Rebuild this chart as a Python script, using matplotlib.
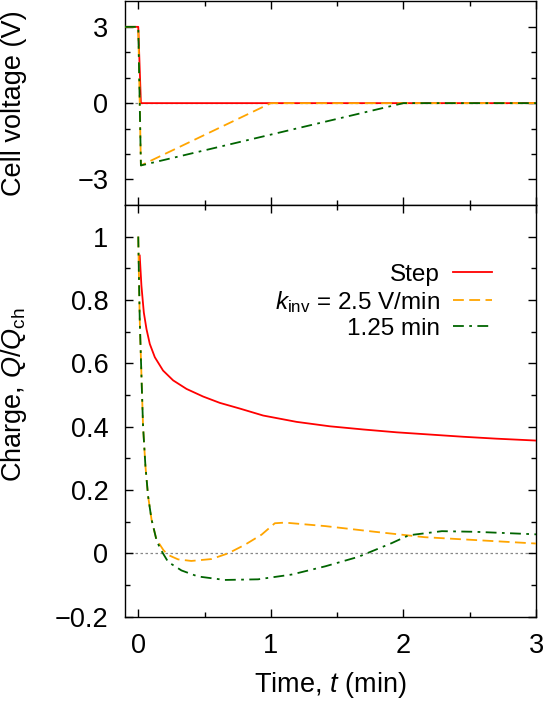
import numpy as np
import matplotlib
matplotlib.use("Agg")
import matplotlib.pyplot as plt

plt.rcParams['font.family'] = ['Liberation Sans', 'DejaVu Sans']
plt.rcParams['mathtext.fontset'] = 'custom'
plt.rcParams['mathtext.rm'] = 'Liberation Sans'
plt.rcParams['mathtext.it'] = 'Liberation Sans:italic'
plt.rcParams['font.size'] = 19.5

# cell voltage (V) vs time (min)
t_v_step = [-0.1, 0.0, 0.02, 3.0]
v_step = [3, 3, 0, 0]
t_v_fast = [-0.1, 0.0, 0.02, 1.0, 3.0]
v_fast = [3, 3, -2.45, 0, 0]
t_v_slow = [-0.1, 0.0, 0.02, 2.0, 3.0]
v_slow = [3, 3, -2.45, 0, 0]

# charge Q/Qch vs time (min)
t_q_step = [0.011, 0.024, 0.042, 0.062, 0.087, 0.125, 0.187, 0.263, 0.364, 0.489,
            0.615, 0.766, 0.942, 1.194, 1.445, 1.697, 1.949, 2.2, 2.45, 2.7, 3.0]
q_step = [0.940, 0.844, 0.760, 0.708, 0.661, 0.619, 0.577, 0.546, 0.519, 0.495,
          0.475, 0.457, 0.435, 0.415, 0.401, 0.391, 0.382, 0.375, 0.368, 0.362, 0.356]

t_q_start = [0.0, 0.004, 0.011, 0.024, 0.036, 0.054, 0.074, 0.1, 0.137]
q_start = [1.0, 0.9, 0.741, 0.561, 0.403, 0.276, 0.181, 0.107, 0.043]

t_q_fast = t_q_start + [0.162, 0.19, 0.225, 0.30, 0.40, 0.552, 0.678, 0.804, 0.93,
                        1.03, 1.106, 1.41, 1.785, 2.16, 2.54, 3.0]
q_fast = q_start + [0.028, 0.01, -0.005, -0.019, -0.024, -0.018, 0.0, 0.027, 0.059,
                    0.095, 0.097, 0.086, 0.068, 0.051, 0.042, 0.031]

t_q_slow = t_q_start + [0.155, 0.175, 0.225, 0.326, 0.45, 0.653, 0.904, 1.156, 1.41,
                        1.66, 1.91, 2.04, 2.29, 2.54, 3.0]
q_slow = q_start + [0.025, 0.008, -0.027, -0.054, -0.073, -0.084, -0.082, -0.067, -0.041,
                    -0.011, 0.032, 0.057, 0.070, 0.068, 0.060]

labels = ['Step', r'$k_\mathrm{inv}$ = 2.5 V/min', '1.25 min']
red, orange, green = '#ff0000', '#ffa500', '#006400'
lw = 1.3

fig = plt.figure(figsize=(5.43, 7.04), dpi=100)
ax1 = fig.add_axes([0.2302, 0.709, 0.757, 0.289])
ax2 = fig.add_axes([0.2302, 0.124, 0.757, 0.585])

for ax in (ax1, ax2):
    ax.axhline(0, color='#888888', lw=0.9, ls=(0, (2, 2)), zorder=1)
    ax.tick_params(which='both', direction='in', top=True, right=True, width=1)
    ax.tick_params(which='major', length=6)
    ax.tick_params(which='minor', length=3.5)
    ax.tick_params(axis='y', pad=12)
    ax.tick_params(axis='x', pad=12)
    for s in ax.spines.values():
        s.set_linewidth(1)
    ax.set_xlim(-0.1, 3)
    ax.set_xticks([0, 1, 2, 3])
    ax.set_xticks(np.arange(0.5, 3, 1.0), minor=True)

# top: voltage
ax1.plot(t_v_step, v_step, color=red, lw=lw, zorder=3)
ax1.plot(t_v_fast, v_fast, color=orange, lw=lw, dashes=(6, 3), zorder=4)
ax1.plot(t_v_slow, v_slow, color=green, lw=lw, dashes=(6, 3, 1.5, 3), zorder=5)
ax1.set_ylim(-4, 4)
ax1.set_yticks([-3, 0, 3])
ax1.set_yticks([-2, -1, 1, 2], minor=True)
ax1.tick_params(axis='x', labelbottom=False)

# bottom: charge
ax2.plot(t_q_step, q_step, color=red, lw=lw, label=labels[0], zorder=3)
ax2.plot(t_q_fast, q_fast, color=orange, lw=lw, dashes=(6, 3), label=labels[1], zorder=4)
ax2.plot(t_q_slow, q_slow, color=green, lw=lw, dashes=(6, 3, 1.5, 3), label=labels[2], zorder=5)
ax2.set_ylim(-0.2, 1.1)
ax2.set_yticks([-0.2, 0, 0.2, 0.4, 0.6, 0.8, 1])
ax2.set_yticklabels(['\u22120.2', '0', '0.2', '0.4', '0.6', '0.8', '1'])
ax2.set_yticks(np.arange(-0.1, 1.05, 0.2), minor=True)
ax2.set_xlabel(r'Time, $t$ (min)', labelpad=8)

ax2.legend(loc='upper right', bbox_to_anchor=(0.893, 0.857), frameon=False,
           markerfirst=False, borderpad=0, borderaxespad=0, handlelength=1.6,
           handletextpad=0.55, labelspacing=0.12, fontsize=17.5)

fig.text(14 / 543, 1 - 103 / 704, 'Cell voltage (V)', rotation=90,
         ha='center', va='center')
fig.text(14 / 543, 1 - 395 / 704, r'Charge, $Q/Q_\mathrm{ch}$', rotation=90,
         ha='center', va='center')

fig.savefig('out.png', dpi=100)
